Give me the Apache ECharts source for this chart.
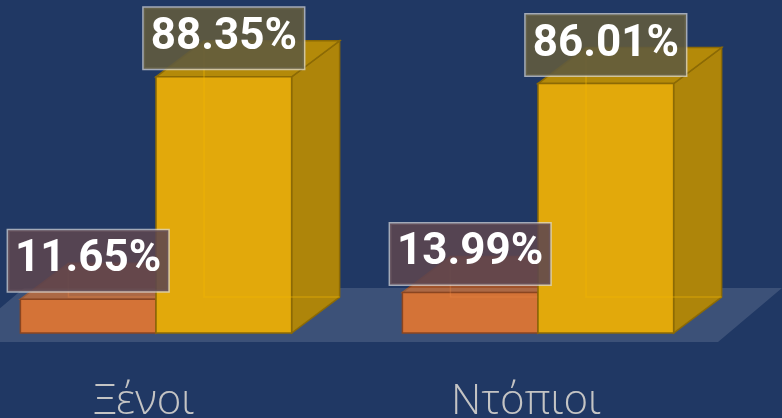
<!DOCTYPE html>
<html>
<head>
<meta charset="utf-8">
<script src="https://cdn.jsdelivr.net/npm/echarts@6/dist/echarts.min.js"></script>
<style>
html,body{margin:0;padding:0;background:#203864;}
#chart{width:782px;height:418px;}
</style>
</head>
<body>
<div id="chart"></div>
<script>
// κατηγορίες και τιμές (%)
var categories = ['Ξένοι', 'Ντόπιοι'];
var orangeValues = [11.65, 13.99];
var yellowValues = [88.35, 86.01];

var DX = 48, DY = -36; // βάθος 3D

var myChart = echarts.init(document.getElementById('chart'));

function toData(arr){
	var out = [];
	for(var i=0;i<arr.length;i++){
		out.push([i, arr[i]]);
	}
	return out;
}

// πάτωμα κάτω από τις μπάρες
function renderFloor(params, api){
	var base = api.coord([0, 0])[1];
	var fy = base + 9, by = base - 45;
	var fl = api.coord([-0.5, 0])[0] - 5;
	var fr = api.coord([categories.length - 0.5, 0])[0] - 11;
	return {
		type: 'polygon',
		z2: 1,
		shape: {points: [[fl, fy], [fr, fy], [fr + 64, by], [fl + 64, by]]},
		style: {fill: 'rgba(255,255,255,0.13)'}
	};
}

// ετικέτες κατηγοριών κάτω από το πάτωμα
function renderCats(params, api){
	var idx = api.value(0);
	var p = api.coord([idx, 0]);
	return {
		type: 'text', z2: 5,
		x: p[0] - 12, y: p[1] + 69,
		style: {
			text: categories[idx],
			fill: '#c4c4c4',
			font: '300 42px "Open Sans", "Noto Sans", sans-serif',
			align: 'center',
			verticalAlign: 'middle'
		}
	};
}

function makeBox(colors, offset){
	return function(params, api){
		var idx = api.value(0);
		var val = api.value(1);
		var base = api.coord([idx, 0]);
		var top = api.coord([idx, val]);
		var faceW = api.size([1, 0])[0] * 0.355;
		var x0 = base[0] + offset * faceW, x1 = x0 + faceW;
		var yb = base[1], yt = top[1];
		var z = 10 + offset * 10;
		return {
			type: 'group',
			children: [
				{type: 'polygon', z2: z,
					shape: {points: [[x1, yb], [x1, yt], [x1 + DX, yt + DY], [x1 + DX, yb + DY]]},
					style: {fill: colors.side, stroke: colors.edge, lineWidth: 1.5}},
				{type: 'polygon', z2: z,
					shape: {points: [[x0, yt], [x1, yt], [x1 + DX, yt + DY], [x0 + DX, yt + DY]]},
					style: {fill: colors.top, stroke: colors.edge, lineWidth: 1.5}},
				{type: 'rect', z2: z + 1,
					shape: {x: x0, y: yt, width: faceW, height: yb - yt},
					style: {fill: colors.front, stroke: colors.edge, lineWidth: 1.5}},
				// πίσω ακμές που φαίνονται αχνά
				{type: 'polyline', z2: z + 2,
					shape: {points: [[x0 + DX, yt + DY], [x0 + DX, yb + DY], [x1 + DX, yb + DY]]},
					style: {fill: null, stroke: colors.ghost, lineWidth: 1.5}},
				{type: 'text', z2: 100,
					x: (x0 + x1) / 2, y: yt - 8,
					style: {
						text: val.toFixed(2) + '%',
						fill: '#ffffff',
						font: 'bold 44px Roboto, "DejaVu Sans", sans-serif',
						align: 'center',
						verticalAlign: 'bottom',
						lineHeight: 48,
						backgroundColor: colors.labelBg,
						borderColor: 'rgba(220,220,220,0.7)',
						borderWidth: 1.5,
						padding: [6, 7, 7, 7],
						boxShadowBlur: 10,
						boxShadowColor: 'rgba(0,0,0,0.3)',
						boxShadowOffsetX: 4,
						boxShadowOffsetY: 4
					}}
			]
		};
	};
}

var orangeColors = {front: '#d47337', side: '#a9562a', top: '#a0532a', edge: '#8a4520',
	ghost: 'rgba(240,140,70,0.3)', labelBg: 'rgba(92,70,80,0.88)'};
var yellowColors = {front: '#e2a90b', side: '#ae850a', top: '#b48a09', edge: '#8c6a05',
	ghost: 'rgba(245,185,0,0.4)', labelBg: 'rgba(96,91,62,0.9)'};

var options = {
	backgroundColor: '#203864',
	animation: false,
	grid: {left: 0, right: 0, top: 43, bottom: 85},
	// η θέση της κάθε κατηγορίας στον άξονα x: 0, 1
	xAxis: {
		type: 'value', min: -0.4084, max: 1.6387,
		show: false
	},
	yAxis: {
		type: 'value', min: 0, max: 100,
		show: false
	},
	series: [
		{type: 'custom', name: 'floor', data: [[0, 0]], renderItem: renderFloor, clip: false, silent: true},
		{type: 'custom', name: 'cats', data: toData([0, 0]), renderItem: renderCats, clip: false, silent: true},
		{type: 'custom', name: 'Όχι', data: toData(orangeValues), renderItem: makeBox(orangeColors, -1), clip: false},
		{type: 'custom', name: 'Ναι', data: toData(yellowValues), renderItem: makeBox(yellowColors, 0), clip: false}
	]
};
myChart.setOption(options);
</script>
</body>
</html>
